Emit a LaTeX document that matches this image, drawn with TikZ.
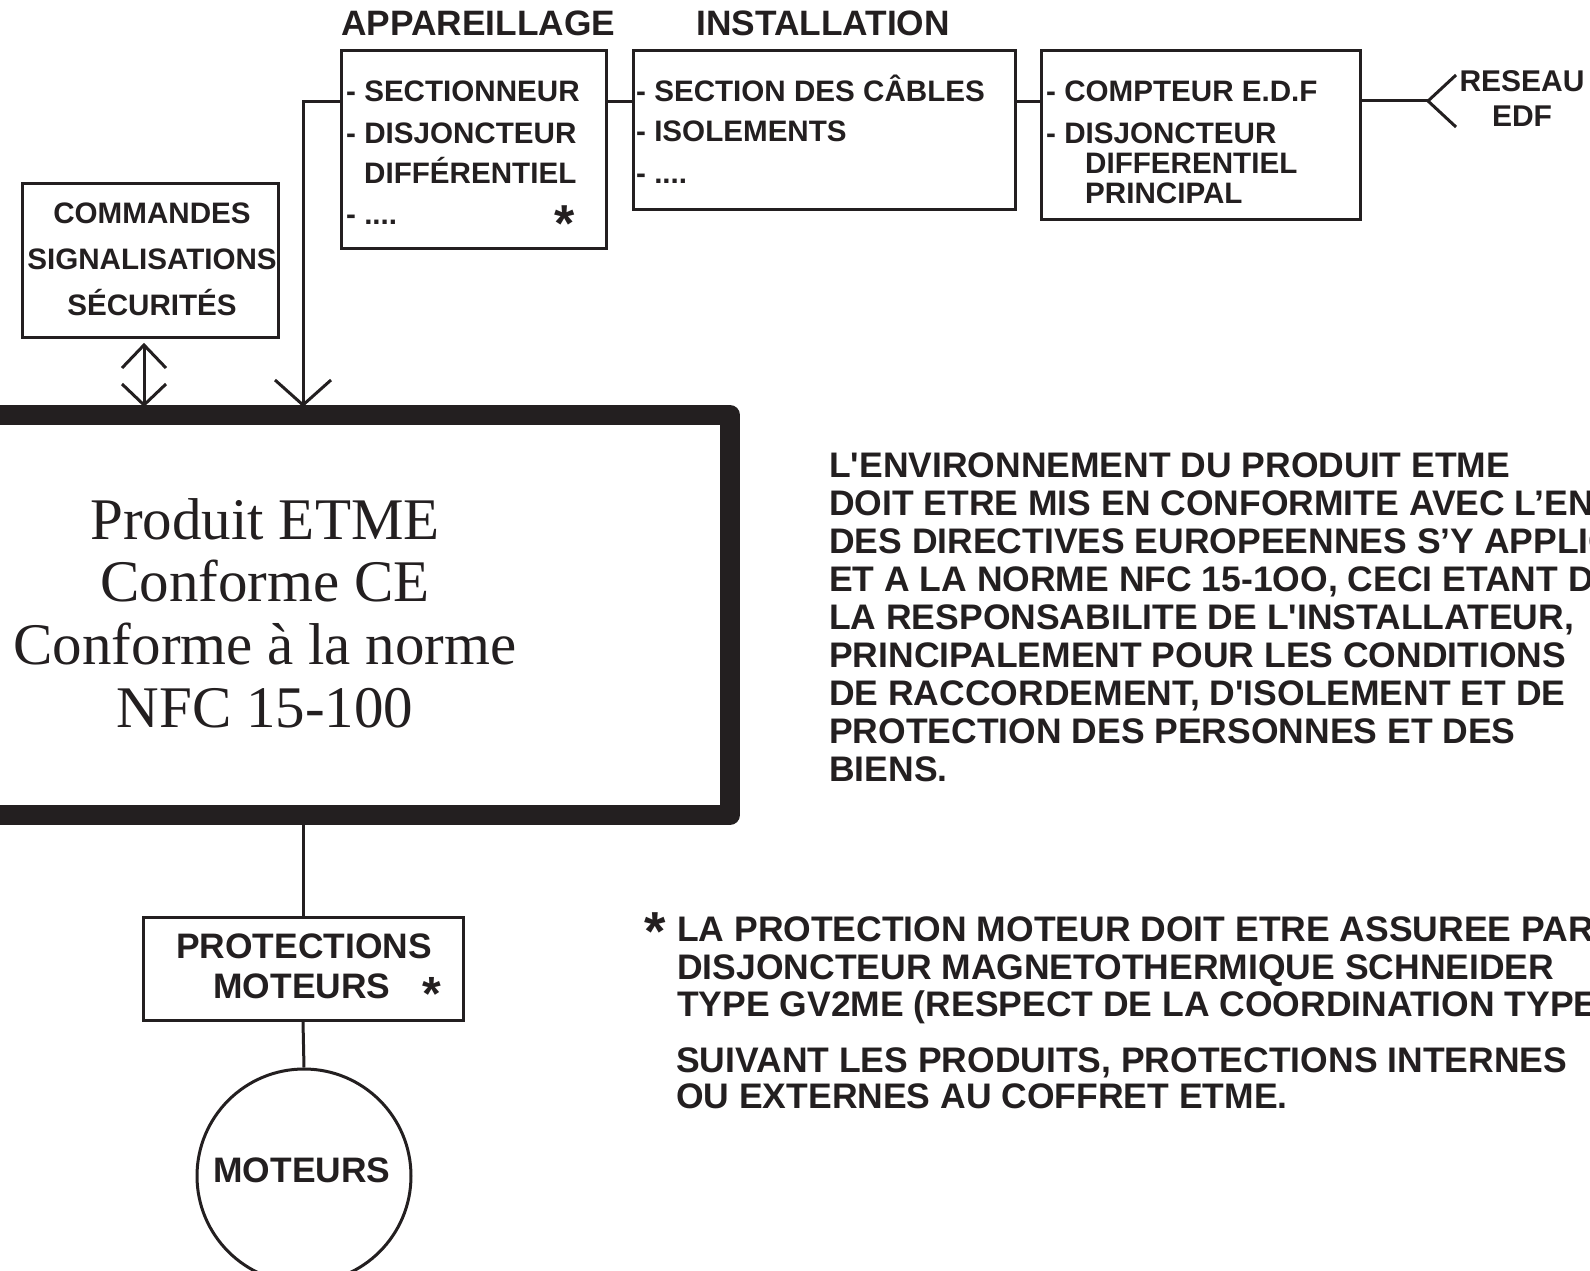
\documentclass[tikz,border=0pt]{standalone}
\usepackage{fontspec}
\setmainfont{Liberation Sans}
\newfontfamily\serifface{Liberation Serif}
\usetikzlibrary{calc}
\definecolor{ink}{RGB}{35,31,32}
\newcommand\fsz[1]{\fontsize{#1}{#1}\selectfont}

\begin{document}
\begin{tikzpicture}[x=1pt,y=-1pt,
  wire/.style={draw=ink, line width=3pt},
  frame/.style={draw=ink, line width=3pt, inner sep=0pt},
  heavy/.style={draw=ink, line width=20pt, line join=round, inner sep=0pt},
  lbl/.style={text=ink, inner sep=0pt, anchor=base west, font=\bfseries\fsz{29.6}},
  clbl/.style={text=ink, inner sep=0pt, anchor=base, font=\bfseries\fsz{#1}},
  note/.style={text=ink, inner sep=0pt, anchor=base west, font=\bfseries\fsz{35.5}},
  big/.style={text=ink, inner sep=0pt, anchor=base, font=\serifface\fsz{59}},
  star/.style={text=ink, inner sep=0pt, anchor=base, font=\bfseries\fsz{#1}}
]
\useasboundingbox (0,0) rectangle (1590,1271);

% ---- headings
\node[clbl=35.3, anchor=base west] (happ) at (341,36) {APPAREILLAGE};
\node[clbl=35.3, anchor=base west] (hins) at (696,36) {INSTALLATION};

% ---- upper boxes
\node[frame, minimum width=265pt, minimum height=197pt] (app) at (473.5,149.5) {};
\node[frame, minimum width=382pt, minimum height=158pt] (inst) at (824,130) {};
\node[frame, minimum width=319pt, minimum height=168pt] (cpt) at (1200.5,135) {};
\node[frame, minimum width=256pt, minimum height=154pt] (cmd) at (150,260) {};

% switchgear list
\node[lbl] (a1) at (346,102) {- SECTIONNEUR};
\node[lbl] (a2) at (346,143) {- DISJONCTEUR};
\node[lbl] (a3) at (364,183) {DIFFÉRENTIEL};
\node[lbl] (a4) at (346,224) {- ....};
\node[star=52] (as1) at (565,241) {*};

% installation list
\node[lbl] (i1) at (636,102) {- SECTION DES CÂBLES};
\node[lbl] (i2) at (636,142) {- ISOLEMENTS};
\node[lbl] (i3) at (636,183) {- ....};

% supply side
\node[lbl] (c1) at (1046,102) {- COMPTEUR E.D.F};
\node[lbl] (c2) at (1046,143) {- DISJONCTEUR};
\node[lbl] (c3) at (1085,173) {DIFFERENTIEL};
\node[lbl] (c4) at (1085,203) {PRINCIPAL};
\node[clbl=30] (r1) at (1522,92) {RESEAU};
\node[clbl=30] (r2) at (1522,127) {EDF};

% controls
\node[clbl=29.6] (k1) at (152,223) {COMMANDES};
\node[clbl=29.6] (k2) at (152,269) {SIGNALISATIONS};
\node[clbl=29.6] (k3) at (152,315) {SÉCURITÉS};

% ---- product
\node[heavy, minimum width=770pt, minimum height=400pt] (thick) at (345,615) {};
\node[big] (t1) at (265,539) {Produit ETME};
\node[big] (t2) at (265,601) {Conforme CE};
\node[big] (t3) at (265,664) {Conforme à la norme};
\node[big] (t4) at (265,727) {NFC 15-100};

% ---- motor side
\node[frame, minimum width=320pt, minimum height=103pt] (prot) at (303,968.5) {};
\node[clbl=35.4] (m1) at (304,958) {PROTECTIONS};
\node[clbl=35.4] (m2) at (302,998) {MOTEURS};
\node[star=48] (as2) at (432,1010) {*};
\node[draw=ink, line width=3pt, circle, minimum size=214pt, inner sep=0pt] (mot) at (304,1176) {};
\node[clbl=35.4] (m3) at (302,1182) {MOTEURS};

% ---- notes
\node[note] (p1) at (829,477) {L\textquotesingle ENVIRONNEMENT DU PRODUIT ETME};
\node[note] (p2) at (829,515) {DOIT ETRE MIS EN CONFORMITE AVEC L’EN};
\node[note] (p3) at (829,553) {DES DIRECTIVES EUROPEENNES S’Y APPLIC};
\node[note] (p4) at (829,591) {ET A LA NORME NFC 15-1OO, CECI ETANT D};
\node[note] (p5) at (829,629) {LA RESPONSABILITE DE L\textquotesingle INSTALLATEUR,};
\node[note] (p6) at (829,667) {PRINCIPALEMENT POUR LES CONDITIONS};
\node[note] (p7) at (829,705) {DE RACCORDEMENT, D\textquotesingle ISOLEMENT ET DE};
\node[note] (p8) at (829,743) {PROTECTION DES PERSONNES ET DES};
\node[note] (p9) at (829,781) {BIENS.};

\node[star=55] (as3) at (655,950) {*};
\node[note] (f1) at (677,941) {LA PROTECTION MOTEUR DOIT ETRE ASSUREE PAR};
\node[note] (f2) at (677,979) {DISJONCTEUR MAGNETOTHERMIQUE SCHNEIDER};
\node[note] (f3) at (677,1016) {TYPE GV2ME (RESPECT DE LA COORDINATION TYPE};
\node[note] (f4) at (676,1072) {SUIVANT LES PRODUITS, PROTECTIONS INTERNES};
\node[note] (f5) at (676,1108) {OU EXTERNES AU COFFRET ETME.};

% ---- connections
\coordinate (j1) at (303,102);
\coordinate (tipA) at (j1 |- thick.north);
\draw[wire] (app.west |- j1) -- (j1) -- (tipA);
\draw[wire] ($(tipA)+(-28,-25)$) -- (tipA) -- ($(tipA)+(28,-25)$);

\draw[wire] (app.east |- j1) -- (inst.west |- j1);
\draw[wire] (inst.east |- j1) -- (cpt.west |- j1);

\coordinate (rs) at (1428,101);
\draw[wire] (cpt.east |- rs) -- (rs);
\draw[wire] ($(rs)+(28,-26)$) -- (rs) -- ($(rs)+(28,26)$);

\coordinate (dt) at (144,345);
\coordinate (db) at (dt |- thick.north);
\draw[wire] (dt) -- (db);
\draw[wire] ($(dt)+(-22,23)$) -- (dt) -- ($(dt)+(22,23)$);
\draw[wire] ($(db)+(-22,-21)$) -- (db) -- ($(db)+(22,-21)$);

\draw[wire] (prot.north |- thick.south) -- (prot.north);
\draw[wire] (prot.south) -- (mot.north);
\end{tikzpicture}
\end{document}
